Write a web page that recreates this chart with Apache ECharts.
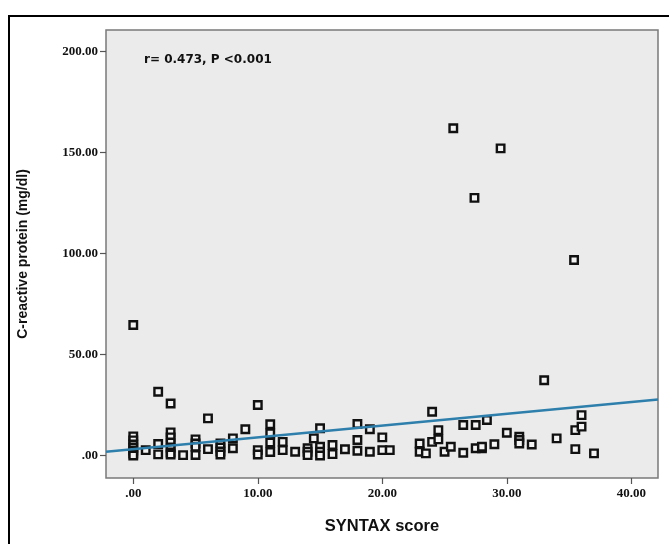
<!DOCTYPE html>
<html>
<head>
<meta charset="utf-8">
<script src="https://cdn.jsdelivr.net/npm/echarts@6/dist/echarts.min.js"></script>
<style>html,body{margin:0;padding:0;background:#fff;}#c{width:669px;height:544px;}</style>
</head>
<body>
<div id="c"></div>
<script>
// SYNTAX score (x) and C-reactive protein (y)
var syntaxScore = [
  0,0,0,0,0,0,0,0,
  1,
  2,2,2,
  3,3,3,3,3,3,3,
  4,
  5,5,5,5,
  6,6,
  7,7,7,7,
  8,8,
  9,
  10,10,10,
  11,11,11,11,
  12,12,
  13,
  14,14,14,14.5,
  15,15,15,15,
  16,16,
  17,
  18,18,18,
  19,19,
  20,20,20.6,
  23,23,23.5,
  24,24,24.5,24.5,
  25,25.5,25.7,
  26.5,26.5,
  27.4,27.5,27.5,
  28,28,28.4,
  29,29.5,
  30,
  31,31,31,
  32,
  33,
  34,
  35.4,35.5,35.5,
  36,36,
  37
];
var crp = [
  64.6,9.5,7.5,5.5,4,2.5,1,0,
  2.7,
  31.6,5.7,0.6,
  25.8,11.5,9,6.5,4,1.5,0.5,
  0.2,
  8,6,4.4,0.3,
  18.4,3.2,
  6,4,2,0.5,
  8.5,3.6,
  13,
  25,2.7,0.5,
  15.5,11,6.5,1.8,
  6.8,2.7,
  1.9,
  3.6,1.9,0.2,8.5,
  13.5,4.4,1.9,0,
  5.2,0.7,
  3.1,
  15.6,7.7,2.4,
  13,1.9,
  9,2.7,2.7,
  6,1.9,1.1,
  21.7,6.8,12.6,8,
  1.9,4.4,162,
  1.4,15.1,
  127.5,15.1,3.6,
  3.6,4.4,17.6,
  5.6,152,
  11.3,
  9.3,7.7,6,
  5.5,
  37.3,
  8.5,
  96.8,12.6,3.2,
  20,14.3,
  1.1
];
var fitX = [-2.19, 42.14];
var fitY = [1.9, 27.8];
var xTicks = [0, 10, 20, 30, 40];
var yTicks = [0, 50, 100, 150, 200];

var points = syntaxScore.map(function (x, i) { return [x, crp[i]]; });
var fitLine = fitX.map(function (x, i) { return [x, fitY[i]]; });
function fmt(v) { return v === 0 ? '.00' : v.toFixed(2); }

var chart = echarts.init(document.getElementById('c'), null, {renderer: 'canvas'});
chart.setOption({
  animation: false,
  backgroundColor: '#ffffff',
  grid: {
    left: 106, right: 11, top: 30, bottom: 66,
    show: true, backgroundColor: '#ebebeb', borderColor: '#7a7a7a', borderWidth: 1.5
  },
  graphic: [{
    type: 'rect', silent: true, z: 100,
    shape: {x: 9, y: 16, width: 700, height: 600},
    style: {fill: 'none', stroke: '#000', lineWidth: 2}
  }, {
    type: 'text', left: 144, top: 54, z: 100,
    style: {text: 'r= 0.473, P <0.001', font: 'bold 12px "DejaVu Sans", Verdana, sans-serif', fill: '#111'}
  }],
  xAxis: {
    type: 'value', min: -2.19, max: 42.14,
    name: 'SYNTAX score', nameLocation: 'middle', nameGap: 40,
    nameTextStyle: {fontFamily: '"Liberation Sans", Arial, sans-serif', fontWeight: 'bold', fontSize: 16.5, color: '#111'},
    axisLine: {show: false, onZero: false},
    splitLine: {show: false},
    axisTick: {show: true, inside: false, customValues: xTicks, length: 6, lineStyle: {color: '#555', width: 1.2}},
    axisLabel: {customValues: xTicks, formatter: fmt, margin: 9,
      fontFamily: '"Liberation Serif", "Times New Roman", serif', fontWeight: 'bold', fontSize: 13, color: '#111'}
  },
  yAxis: {
    type: 'value', min: -11.1, max: 210.6,
    name: 'C-reactive protein (mg/dl)', nameLocation: 'middle', nameGap: 76, nameRotate: 90,
    nameTextStyle: {fontFamily: '"Liberation Sans", Arial, sans-serif', fontWeight: 'bold', fontSize: 14, color: '#111'},
    axisLine: {show: false, onZero: false},
    splitLine: {show: false},
    axisTick: {show: true, inside: false, customValues: yTicks, length: 6, lineStyle: {color: '#555', width: 1.2}},
    axisLabel: {customValues: yTicks, formatter: fmt, margin: 8,
      fontFamily: '"Liberation Serif", "Times New Roman", serif', fontWeight: 'bold', fontSize: 13, color: '#111'}
  },
  series: [{
    type: 'scatter', data: points, symbol: 'rect', symbolSize: 7.5, z: 2,
    itemStyle: {color: '#f3f3f3', borderColor: '#111', borderWidth: 2.4, opacity: 1}
  }, {
    type: 'line', data: fitLine, symbol: 'none', z: 3,
    lineStyle: {color: '#2e7fab', width: 2.5}
  }]
});
</script>
</body>
</html>
